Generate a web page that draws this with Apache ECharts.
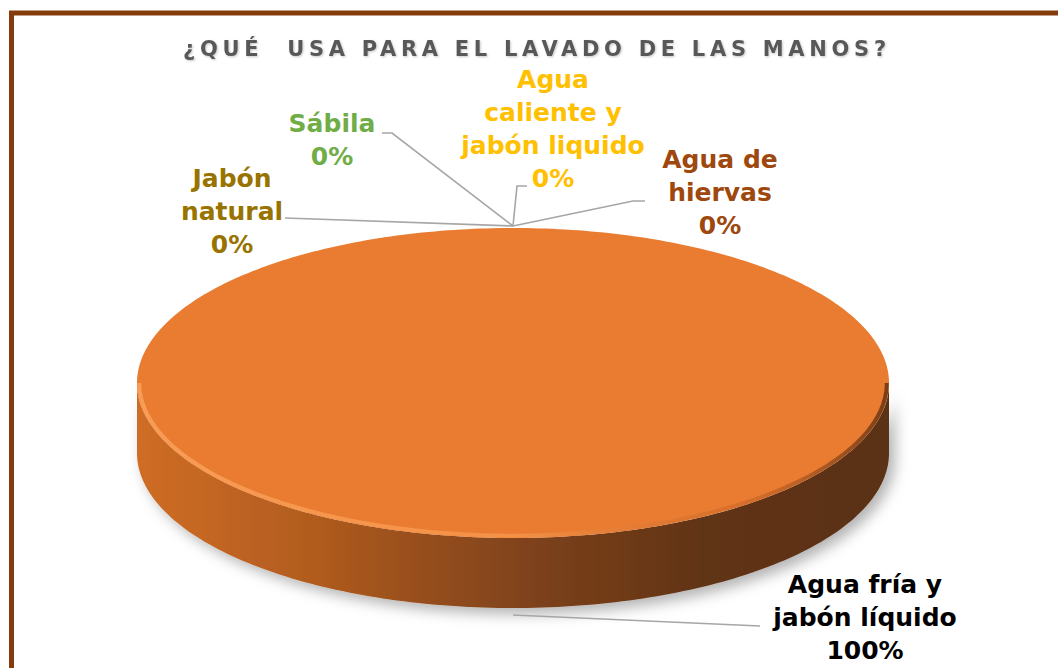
<!DOCTYPE html>
<html>
<head>
<meta charset="utf-8">
<script src="https://cdn.jsdelivr.net/npm/echarts@6/dist/echarts.min.js"></script>
<style>
html,body{margin:0;padding:0;background:#ffffff;}
#chart{width:1058px;height:668px;}
#chart text[style*="21px"]{letter-spacing:4.7px;}
</style>
</head>
<body>
<div id="chart"></div>
<script>
// ---- data ----
const titleText = '¿QUÉ  USA PARA EL LAVADO DE LAS MANOS?';
const categories = [
  'Agua fría y\njabón líquido',
  'Jabón\nnatural',
  'Sábila',
  'Agua\ncaliente y\njabón liquido',
  'Agua de\nhiervas'
];
const values = [100, 0, 0, 0, 0];

// ---- styles / layout ----
const labelColors = ['#000000', '#997300', '#70AD47', '#FFC000', '#9E480E'];
const labelCenters = [[865, 617], [232, 211], [332, 140], [553, 129], [720, 192]];
const leaderEnds = [
  [[760, 626]],
  [[285, 218]],
  [[392, 133], [382, 133]],
  [[517, 186], [527, 186]],
  [[633, 201], [645, 201]]
];
const PIE = {cx: 513, cy: 383, rx: 376, ry: 155, depth: 70};

const total = values.reduce((a, b) => a + b, 0);

function pt(t, dy) {
  return [PIE.cx + PIE.rx * Math.sin(t), PIE.cy - PIE.ry * Math.cos(t) + (dy || 0)];
}

function renderItem(params, api) {
  const i = params.dataIndex;
  const v = api.value(0);
  let cum = 0;
  for (let k = 0; k < i; k++) cum += values[k];
  const a0 = cum / total * 2 * Math.PI;
  const a1 = (cum + v) / total * 2 * Math.PI;
  const children = [];
  if (a1 > a0) {
    const s0 = Math.max(a0, Math.PI / 2), s1 = Math.min(a1, 3 * Math.PI / 2);
    if (s1 > s0) {
      const N = 160, top = [], bot = [];
      for (let k = 0; k <= N; k++) {
        const t = s0 + (s1 - s0) * k / N;
        top.push(pt(t, 0));
        bot.push(pt(t, PIE.depth));
      }
      children.push({
        type: 'polygon',
        shape: {points: top.concat(bot.reverse())},
        style: {
          fill: new echarts.graphic.LinearGradient(0, 0, 1, 0, [
            {offset: 0, color: '#CF6D25'},
            {offset: 0.22, color: '#B35D1F'},
            {offset: 0.4, color: '#934C1C'},
            {offset: 0.55, color: '#7A401A'},
            {offset: 0.75, color: '#613417'},
            {offset: 1, color: '#5A3014'}
          ]),
          shadowBlur: 14,
          shadowColor: 'rgba(0,0,0,0.30)',
          shadowOffsetX: 6,
          shadowOffsetY: 6
        }
      });
    }
    const N = 360, pts = [];
    const full = (a1 - a0) >= 2 * Math.PI - 1e-9;
    if (!full) pts.push([PIE.cx, PIE.cy]);
    for (let k = 0; k <= N; k++) pts.push(pt(a0 + (a1 - a0) * k / N, 0));
    children.push({
      type: 'polygon',
      shape: {points: pts},
      style: {fill: '#E97C31'}
    });
    if (s1 > s0) {
      const rim = [];
      const M = 160;
      for (let k = 0; k <= M; k++) {
        const t = s0 + (s1 - s0) * k / M;
        const p = pt(t, 0);
        rim.push([PIE.cx + (p[0] - PIE.cx) * 0.994, PIE.cy + (p[1] - PIE.cy) * 0.985]);
      }
      children.push({
        type: 'polyline',
        shape: {points: rim},
        style: {
          fill: null,
          lineWidth: 4,
          stroke: new echarts.graphic.LinearGradient(0, 0, 1, 0, [
            {offset: 0, color: 'rgba(250,160,90,0.9)'},
            {offset: 0.5, color: 'rgba(247,150,75,0.8)'},
            {offset: 0.8, color: 'rgba(200,100,40,0.5)'},
            {offset: 1, color: 'rgba(110,55,20,0.9)'}
          ])
        }
      });
    }
  }
  // leader line + label
  const mid = (a0 + a1) / 2;
  const front = Math.cos(mid) < 0;
  const anchor = pt(mid, front ? PIE.depth + 7 : -2);
  children.push({
    type: 'polyline',
    shape: {points: [anchor].concat(leaderEnds[i])},
    style: {fill: null, stroke: '#A6A6A6', lineWidth: 1.6}
  });
  const pct = total ? Math.round(v / total * 100) : 0;
  children.push({
    type: 'text',
    style: {
      x: labelCenters[i][0],
      y: labelCenters[i][1],
      text: categories[i] + '\n' + pct + '%',
      fill: labelColors[i],
      fontFamily: 'DejaVu Sans',
      fontWeight: 'bold',
      fontSize: 25,
      lineHeight: 33,
      align: 'center',
      verticalAlign: 'middle'
    }
  });
  return {type: 'group', children: children};
}

const chart = echarts.init(document.getElementById('chart'), null, {renderer: 'svg'});
chart.setOption({
  animation: false,
  backgroundColor: '#ffffff',
  title: {
    text: titleText,
    left: 178,
    top: 33,
    textAlign: 'left',
    textStyle: {
      fontFamily: 'DejaVu Sans',
      fontWeight: 'bold',
      fontSize: 21,
      color: '#595959',
      textShadowColor: 'rgba(0,0,0,0.22)',
      textShadowBlur: 2,
      textShadowOffsetX: 1,
      textShadowOffsetY: 1
    }
  },
  graphic: [{
    type: 'rect',
    silent: true,
    shape: {x: 11.5, y: 13, width: 1200, height: 800},
    style: {fill: null, stroke: '#843C0C', lineWidth: 5}
  }],
  series: [{
    type: 'custom',
    coordinateSystem: 'none',
    renderItem: renderItem,
    data: values.map((v, i) => ({name: categories[i], value: [v]})),
    silent: true
  }]
});
</script>
</body>
</html>
